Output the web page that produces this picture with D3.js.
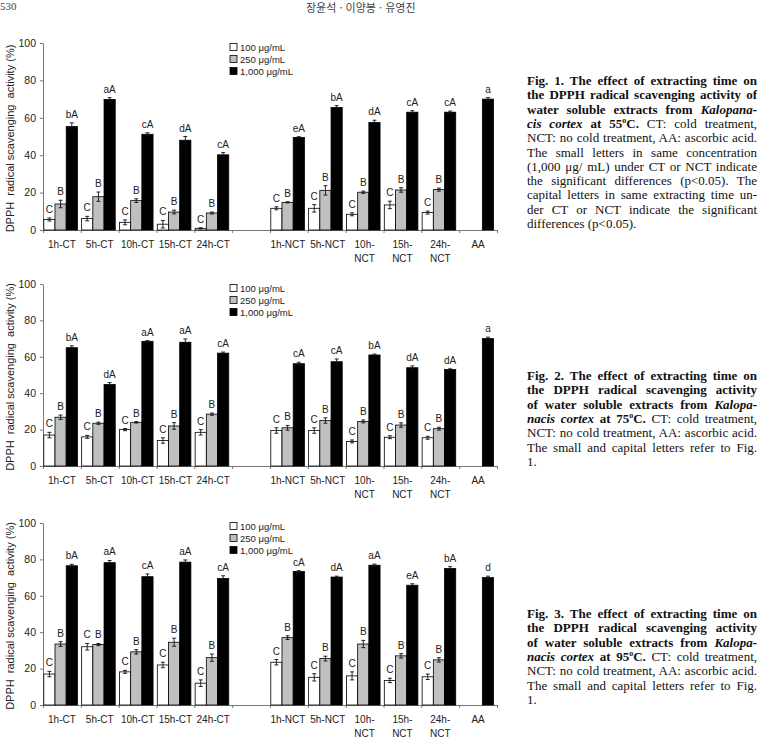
<!DOCTYPE html>
<html lang="ko">
<head>
<meta charset="UTF-8">
<title>DPPH radical scavenging activity</title>
<script src="https://cdn.jsdelivr.net/npm/d3@7"></script>
<style>
  body { margin: 0; background: #fff; }
  .axis path, .axis line { stroke: #777; stroke-width: 1px; }
  .axis text { font-family: "Liberation Sans", Arial, sans-serif; font-size: 10.5px; fill: #222; }
  .lab { font-family: "Liberation Sans", Arial, sans-serif; font-size: 10px; fill: #222; }
</style>
</head>
<body>
<div id="chartArea"></div>
<script>
// categories (index 5 is the empty gap between CT and NCT)
const categories = ['1h-CT', '5h-CT', '10h-CT', '15h-CT', '24h-CT', '', '1h-NCT', '5h-NCT', '10h-NCT', '15h-NCT', '24h-NCT', 'AA'];
const tickLabels = ['1h-CT', '5h-CT', '10h-CT', '15h-CT', '24h-CT', '', '1h-NCT', '5h-NCT', '10h-|NCT', '15h-|NCT', '24h-|NCT', 'AA'];
const seriesNames = ['100 μg/mL', '250 μg/mL', '1,000 μg/mL'];
const yTicks = [0, 20, 40, 60, 80, 100];

const labels100 = ['C', 'C', 'C', 'C', 'C', null, 'C', 'C', 'C', 'C', 'C', null];
const labels250 = ['B', 'B', 'B', 'B', 'B', null, 'B', 'B', 'B', 'B', 'B', null];

// Fig. 1  (55 C)
const f1_100 = [5.6, 6.1, 4.1, 3.1, 0.9, null, 11.6, 11.6, 8.4, 13.4, 9.3, null];
const f1_100err = [0.8, 1.2, 1.3, 2, 0.3, null, 0.8, 2, 0.8, 2, 0.8, null];
const f1_250 = [13.9, 17.8, 15.7, 9.6, 9.1, null, 14.8, 21.2, 20.2, 21.4, 21.6, null];
const f1_250err = [2, 2.5, 1, 1, 0.5, null, 0.3, 2.5, 0.6, 1.2, 0.8, null];
const f1_1000 = [55.3, 69.8, 51.2, 48, 40.2, null, 49.5, 65.5, 57.5, 63, 63, 70];
const f1_1000err = [2, 1, 0.8, 2, 1.2, null, 0.4, 1, 1.2, 0.8, 0.6, 0.8];
const f1_labels1000 = ['bA', 'aA', 'cA', 'dA', 'cA', null, 'eA', 'bA', 'dA', 'cA', 'cA', 'a'];

// Fig. 2  (75 C)
const f2_100 = [17, 16, 20, 14, 18.5, null, 19.5, 19.5, 13.5, 15.8, 15.5, null];
const f2_100err = [1.5, 0.8, 0.6, 1.5, 1.5, null, 1.5, 1.5, 0.8, 0.8, 0.8, null];
const f2_250 = [26.8, 23.5, 24, 22, 28.5, null, 21, 25, 24.5, 22.5, 20.5, null];
const f2_250err = [1.2, 0.6, 0.4, 1.8, 0.6, null, 1.3, 1.5, 0.8, 1.2, 0.8, null];
const f2_1000 = [65, 44.8, 68.5, 68, 62, null, 56.2, 57.3, 61, 54, 53, 70];
const f2_1000err = [1, 1, 0.4, 1.8, 0.6, null, 0.8, 1.5, 0.5, 1, 0.4, 0.8];
const f2_labels1000 = ['bA', 'dA', 'aA', 'aA', 'cA', null, 'cA', 'cA', 'bA', 'dA', 'dA', 'a'];

// Fig. 3  (95 C)
const f3_100 = [17, 32, 18.2, 22, 12, null, 23.5, 15.2, 16, 13.5, 15.5, null];
const f3_100err = [1.5, 1.8, 0.8, 1.5, 1.8, null, 1.5, 2, 2.2, 1.2, 1.5, null];
const f3_250 = [33.5, 33.2, 29.2, 34.5, 26, null, 37, 25.5, 33.5, 27, 24.8, null];
const f3_250err = [1.3, 0.6, 1.2, 2.2, 2, null, 1, 1.3, 2, 1.2, 1.2, null];
const f3_1000 = [76.5, 78.2, 70.5, 78.5, 69.5, null, 73.3, 70.3, 76.8, 65.8, 75, 70];
const f3_1000err = [0.8, 1.2, 1.5, 1.2, 1.5, null, 0.5, 0.5, 0.6, 0.8, 1, 0.8];
const f3_labels1000 = ['bA', 'aA', 'cA', 'aA', 'cA', null, 'cA', 'dA', 'aA', 'eA', 'bA', 'd'];

const figs = [
    { top: 43, base: 230, legendY: 47,
      values: [f1_100, f1_250, f1_1000], errors: [f1_100err, f1_250err, f1_1000err],
      labels: [labels100, labels250, f1_labels1000] },
    { top: 284, base: 466, legendY: 288,
      values: [f2_100, f2_250, f2_1000], errors: [f2_100err, f2_250err, f2_1000err],
      labels: [labels100, labels250, f2_labels1000] },
    { top: 523, base: 705, legendY: 526,
      values: [f3_100, f3_250, f3_1000], errors: [f3_100err, f3_250err, f3_1000err],
      labels: [labels100, labels250, f3_labels1000] },
];

// captions: [text, style]  b = bold, bi = bold italic, sup = superscript, r = regular
const cap1 = [
    [['Fig. 1. The effect of extracting time on', 'b']],
    [['the DPPH radical scavenging activity of', 'b']],
    [['water soluble extracts from ', 'b'], ['Kalopana-', 'bi']],
    [['cis cortex', 'bi'], [' at 55', 'b'], ['o', 'sup'], ['C.', 'b'], [' CT: cold treatment,', 'r']],
    [['NCT: no cold treatment, AA: ascorbic acid.', 'r']],
    [['The small letters in same concentration', 'r']],
    [['(1,000 μg/ mL) under CT or NCT indicate', 'r']],
    [['the significant differences (p<0.05). The', 'r']],
    [['capital letters in same extracting time un-', 'r']],
    [['der CT or NCT indicate the significant', 'r']],
    [['differences (p<0.05).', 'r']],
];
const capShort = (n, t) => [
    [['Fig. ' + n + '. The effect of extracting time on', 'b']],
    [['the DPPH radical scavenging activity', 'b']],
    [['of water soluble extracts from ', 'b'], ['Kalopa-', 'bi']],
    [['nacis cortex', 'bi'], [' at ' + t, 'b'], ['o', 'sup'], ['C.', 'b'], [' CT: cold treatment,', 'r']],
    [['NCT: no cold treatment, AA: ascorbic acid.', 'r']],
    [['The small and capital letters refer to Fig.', 'r']],
    [['1.', 'r']],
];

const W = 760, H = 751;
const svg = d3.select('#chartArea').append('svg')
    .attr('width', W).attr('height', H)
    .style('display', 'block');

const x = d3.scaleBand().domain(d3.range(categories.length)).range([43, 497]);
const xEdge = d3.scaleLinear().domain([0, categories.length]).range(x.range());
const barW = 11.2, barOff = 0.8;
const fills = ['#ffffff', '#c0c0c0', '#000000'];

figs.forEach(f => {
    const y = d3.scaleLinear().domain([0, 100]).range([f.base, f.top]);
    const g = svg.append('g');

    // y axis
    g.append('g').attr('class', 'axis')
        .attr('transform', `translate(${x.range()[0]},0)`)
        .call(d3.axisLeft(y).tickValues(yTicks).tickSize(3).tickSizeOuter(0).tickPadding(4));

    // x axis: ticks on every band edge
    g.append('g').attr('class', 'axis')
        .attr('transform', `translate(0,${f.base})`)
        .call(d3.axisBottom(xEdge).tickValues(d3.range(categories.length + 1)).tickSize(3).tickSizeOuter(0).tickFormat(''));

    // category labels
    tickLabels.forEach((lab, i) => {
        if (!lab) return;
        const t = g.append('text').attr('class', 'lab')
            .attr('text-anchor', 'middle')
            .attr('x', x(i) + x.bandwidth() / 2)
            .attr('y', f.base + 18);
        lab.split('|').forEach((p, k) => {
            t.append('tspan').attr('x', x(i) + x.bandwidth() / 2 + (i === 6 ? -1 : i === 7 ? 1 : 0))
                .attr('dy', k ? 13.5 : 0).text(p);
        });
    });

    // y title
    g.append('text').attr('class', 'lab')
        .style('font-size', '11px').style('white-space', 'pre')
        .attr('text-anchor', 'middle')
        .attr('transform', `translate(14,${(f.top + f.base) / 2 + 2}) rotate(-90)`)
        .text('DPPH  radical scavenging  activity (%)');

    // bars
    f.values.forEach((vals, s) => {
        const data = vals.map((v, i) => ({ i, v, e: f.errors[s][i], lab: f.labels[s][i] }))
            .filter(d => d.v != null);
        const cx = d => x(d.i) + barOff + s * barW + barW / 2;

        g.selectAll(null).data(data).enter().append('rect')
            .attr('x', d => x(d.i) + barOff + s * barW)
            .attr('y', d => y(d.v))
            .attr('width', barW)
            .attr('height', d => f.base - y(d.v))
            .attr('fill', fills[s])
            .attr('stroke', '#000')
            .attr('stroke-width', 0.8);

        const eb = g.selectAll(null).data(data).enter().append('g')
            .attr('stroke', '#111').attr('stroke-width', 0.9);
        eb.append('line')
            .attr('x1', cx).attr('x2', cx)
            .attr('y1', d => y(d.v - d.e)).attr('y2', d => y(d.v + d.e));
        [-1, 1].forEach(sgn => {
            eb.append('line')
                .attr('x1', d => cx(d) - 2).attr('x2', d => cx(d) + 2)
                .attr('y1', d => y(d.v + sgn * d.e)).attr('y2', d => y(d.v + sgn * d.e));
        });

        g.selectAll(null).data(data.filter(d => d.lab)).enter().append('text')
            .attr('class', 'lab')
            .attr('text-anchor', 'middle')
            .attr('x', cx)
            .attr('y', d => y(d.v + d.e) - 5)
            .text(d => d.lab);
    });

    // legend
    seriesNames.forEach((n, k) => {
        const ly = f.legendY + k * 12;
        g.append('rect').attr('x', 230).attr('y', ly - 3.5).attr('width', 7).attr('height', 7)
            .attr('fill', fills[k]).attr('stroke', '#000').attr('stroke-width', 0.8);
        g.append('text').attr('class', 'lab').style('font-size', '9.5px')
            .attr('x', 240).attr('y', ly + 3.5).text(n);
    });
});

// captions
function caption(lines, y0) {
    lines.forEach((segs, k) => {
        const t = svg.append('text')
            .attr('x', 527).attr('y', y0 + k * 14.3)
            .attr('font-family', '"Liberation Serif", "DejaVu Serif", serif')
            .attr('font-size', 13)
            .attr('fill', '#111')
            .style('white-space', 'pre');
        let shift = 0;
        segs.forEach(([s, st]) => {
            const ts = t.append('tspan').text(s);
            if (st === 'sup') {
                ts.attr('font-size', 8).attr('font-weight', 'bold').attr('dy', -5);
                shift = 5;
                return;
            }
            if (shift) { ts.attr('dy', shift); shift = 0; }
            if (st === 'b' || st === 'bi') ts.attr('font-weight', 'bold');
            if (st === 'bi') ts.attr('font-style', 'italic');
        });
        if (k < lines.length - 1) {
            const w = t.node().getComputedTextLength();
            const n = (t.text().match(/ /g) || []).length;
            if (n) t.attr('word-spacing', (230 - w) / n);
        }
    });
}
caption(cap1, 85);
caption(capShort(2, 75), 380);
caption(capShort(3, 95), 618);

// running head
svg.append('text').attr('x', 0).attr('y', 10)
    .attr('font-family', '"Liberation Serif", serif').attr('font-size', 11).attr('fill', '#444')
    .text('530');
svg.append('text').attr('x', 306).attr('y', 12)
    .attr('font-family', '"Noto Sans CJK KR", sans-serif').attr('font-size', 11).attr('fill', '#444')
    .text('장윤석 · 이양봉 · 유영진');
</script>
</body>
</html>
